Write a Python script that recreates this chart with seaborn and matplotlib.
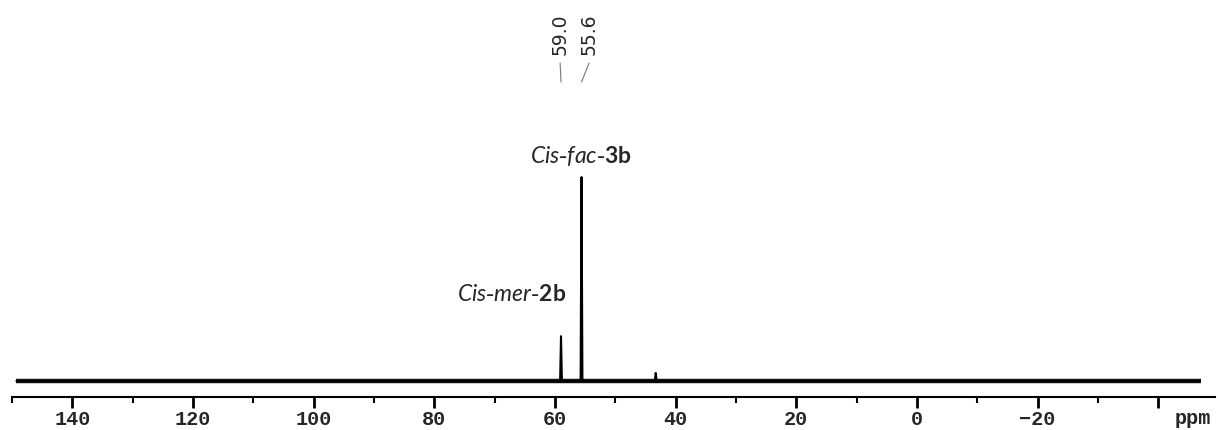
import matplotlib
matplotlib.use("Agg")
import matplotlib.pyplot as plt
import seaborn as sns
import pandas as pd

# ---- data ----
spec_ppm = [149.4, 59.15, 59.0, 58.85, 55.75, 55.6, 55.45, 43.45, 43.3, 43.15, -47.0]
spec_int = [0.0, 0.0, 22.0, 0.0, 0.0, 100.0, 0.0, 0.0, 4.0, 0.0, 0.0]
peak_labels_ppm = [59.0, 55.6]
peak_labels_txt = ["59.0", "55.6"]
x_ticks = [140, 120, 100, 80, 60, 40, 20, 0, -20, -40]
x_tick_labels = ["140", "120", "100", "80", "60", "40", "20", "0", "\u221220", "\u221240"]
minor_ticks = [150, 130, 110, 90, 70, 50, 30, 10, -10, -30]

sns.set_theme(style="white")
plt.rcParams['font.family'] = ['DejaVu Sans']
plt.rcParams['mathtext.fontset'] = 'custom'
plt.rcParams['mathtext.it'] = 'Lato:italic'
plt.rcParams['mathtext.bf'] = 'Lato:bold'
plt.rcParams['mathtext.rm'] = 'Lato'

fig = plt.figure(figsize=(12.18, 4.30), dpi=100)
ax = fig.add_axes([12 / 1218, 33 / 430, 1203 / 1218, 397 / 430])

df = pd.DataFrame({"ppm": spec_ppm, "int": spec_int})
base = pd.DataFrame({"ppm": [spec_ppm[0], spec_ppm[-1]], "int": [0.0, 0.0]})
sns.lineplot(data=base, x="ppm", y="int", sort=False, color="#111111", lw=3.2,
             solid_capstyle="butt", ax=ax)
sns.lineplot(data=df, x="ppm", y="int", sort=False, color="black", lw=1.5,
             solid_capstyle="butt", ax=ax)

ax.set_xlim(149.4, -49.4)
ax.set_ylim(-7.8, 186.8)
ax.set_xlabel("")
ax.set_ylabel("")
ax.set_yticks([])
for s in ["left", "right", "top"]:
    ax.spines[s].set_visible(False)
ax.spines["bottom"].set_linewidth(1.5)
ax.spines["bottom"].set_color("black")

ax.set_xticks(x_ticks)
ax.set_xticklabels(x_tick_labels)
ax.set_xticks(minor_ticks, minor=True)
ax.tick_params(axis="x", which="major", direction="out", length=8, width=2,
               color="black", bottom=True, pad=1.5)
ax.tick_params(axis="x", which="minor", direction="out", length=4, width=1.5,
               color="black", bottom=True)
for lbl in ax.get_xticklabels():
    lbl.set_fontfamily("Liberation Mono")
    lbl.set_fontweight("bold")
    lbl.set_fontsize(14.5)
# hide label of -40 (ppm unit there instead)
ax.get_xticklabels()[-1].set_visible(False)
fig.text(1193 / 1218, 1 - 419 / 430, "ppm", family="Liberation Mono", fontweight="bold",
         fontsize=14.5, ha="center", va="center")

# peak labels at top
label_offsets = [0.15, -1.25]
for p, t, off in zip(peak_labels_ppm, peak_labels_txt, label_offsets):
    lx = p + off
    ax.text(lx, 160, t, rotation=90, ha="center", va="bottom", fontsize=13.5,
            family="DejaVu Sans")
    ax.plot([lx, p], [155.9, 146.6], color="#777777", lw=0.8)

ax.text(55.7, 110.3, r"$\mathit{Cis}$-$\mathit{fac}$-$\mathbf{3b}$", ha="center",
        va="center", fontsize=16.5)
ax.text(67.1, 42.2, r"$\mathit{Cis}$-$\mathit{mer}$-$\mathbf{2b}$", ha="center",
        va="center", fontsize=16.5)

fig.savefig("out.png", dpi=100)
